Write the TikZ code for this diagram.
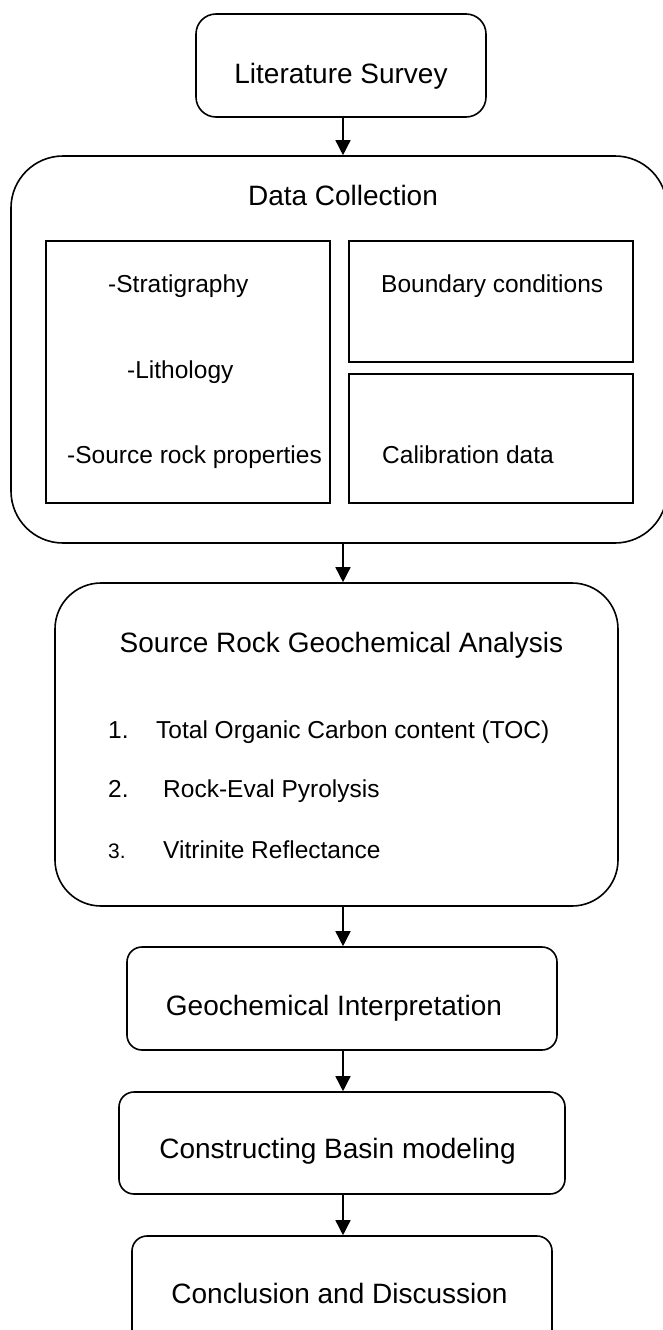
\documentclass[tikz,border=0pt]{standalone}
\usepackage{fontspec}
\setmainfont{Liberation Sans}
\usetikzlibrary{arrows.meta}
\begin{document}
\begin{tikzpicture}[x=1pt,y=-1pt,
  box/.style={draw, line width=1.6pt, inner sep=0pt, fill=white},
  big/.style={font=\fontsize{28}{34}\selectfont, inner sep=0pt, anchor=base},
  small/.style={font=\fontsize{24.5}{30}\selectfont, inner sep=0pt, anchor=base west},
  tiny/.style={font=\fontsize{21}{26}\selectfont, inner sep=0pt, anchor=base west},
  arr/.style={line width=1.5pt, -{Triangle[width=15pt,length=15pt]}}]
\fill[white] (0,0) rectangle (663,1330);
\useasboundingbox (0,0) rectangle (663,1330);
\coordinate (axis) at (343,0);
% boxes
\node[box, minimum width=290pt, minimum height=103pt, rounded corners=20pt] (lit) at (341,65.5) {};
\node[box, minimum width=656pt, minimum height=387pt, rounded corners=52pt] (data) at (339,349.5) {};
\node[box, rounded corners=0pt, minimum width=284pt, minimum height=262pt] (left) at (188,372) {};
\node[box, rounded corners=0pt, minimum width=284pt, minimum height=121pt] (bound) at (491,301.5) {};
\node[box, rounded corners=0pt, minimum width=284pt, minimum height=129pt] (calib) at (491,438.5) {};
\node[box, minimum width=563pt, minimum height=323pt, rounded corners=46pt] (sr) at (336.5,744.5) {};
\node[box, minimum width=430pt, minimum height=103pt, rounded corners=15pt] (geo) at (342,998.5) {};
\node[box, minimum width=446pt, minimum height=102pt, rounded corners=15pt] (basin) at (342,1143) {};
\node[box, minimum width=420pt, minimum height=112pt, rounded corners=15pt] (concl) at (342,1292) {};
% texts
\node[big] (tlit) at (341,83) {Literature Survey};
\node[big] (tdata) at (343,205) {Data Collection};
\node[small] (tstrat) at (108,292) {-Stratigraphy};
\node[small] (tlith) at (127,378) {-Lithology};
\node[small] (tsrc) at (67,463) {-Source rock properties};
\node[small] (tbound) at (381,292) {Boundary conditions};
\node[small] (tcalib) at (382,463) {Calibration data};
\node[big] (tsr) at (341.5,652) {Source Rock Geochemical Analysis};
\node[small] (n1) at (108,738) {1.};
\node[small] (t1) at (156,738) {Total Organic Carbon content (TOC)};
\node[small] (n2) at (108,797) {2.};
\node[small] (t2) at (163,797) {Rock-Eval Pyrolysis};
\node[tiny] (n3) at (108,858) {3.};
\node[small] (t3) at (163,858) {Vitrinite Reflectance};
\node[big] (tgeo) at (334,1015) {Geochemical Interpretation};
\node[big] (tbasin) at (337.5,1158) {Constructing Basin modeling};
\node[big] (tconcl) at (339.5,1303) {Conclusion and Discussion};
% arrows
\draw[arr] (lit.south -| axis) -- (data.north -| axis);
\draw[arr] (data.south -| axis) -- (sr.north -| axis);
\draw[arr] (sr.south -| axis) -- (geo.north -| axis);
\draw[arr] (geo.south -| axis) -- (basin.north -| axis);
\draw[arr] (basin.south -| axis) -- (concl.north -| axis);
\end{tikzpicture}
\end{document}
